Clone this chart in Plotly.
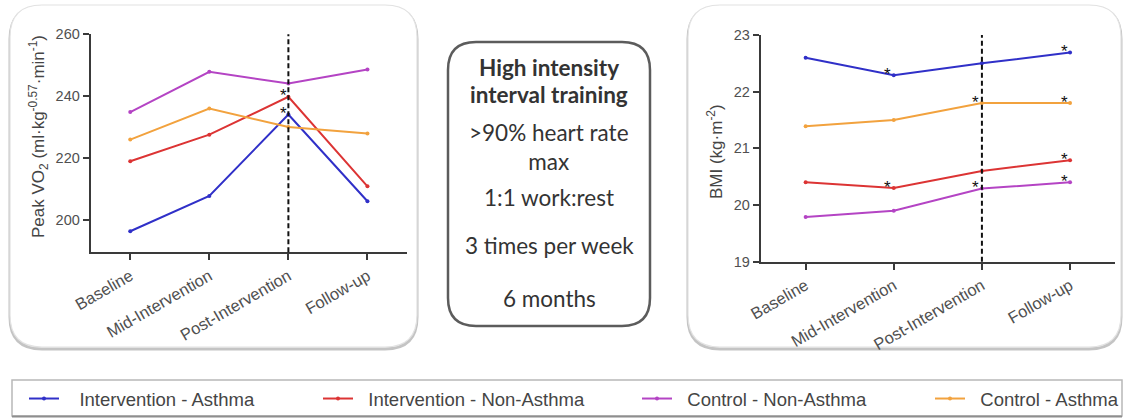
import plotly.graph_objects as go

W, H = 1126, 419

# ---------------- data ----------------
timepoints = ["Baseline", "Mid-Intervention", "Post-Intervention", "Follow-up"]
groups = ["Intervention - Asthma", "Intervention - Non-Asthma",
          "Control - Non-Asthma", "Control - Asthma"]
colors = ["#3030c8", "#dc3434", "#b444c4", "#f2a23e"]

vo2_int_asthma = [196.4, 207.8, 234.1, 206.1]
vo2_int_nonasthma = [219.0, 227.6, 239.8, 210.9]
vo2_ctl_nonasthma = [234.9, 247.9, 244.1, 248.6]
vo2_ctl_asthma = [226.0, 236.0, 230.1, 228.0]

bmi_int_asthma = [22.60, 22.29, 22.50, 22.69]
bmi_int_nonasthma = [20.40, 20.30, 20.60, 20.79]
bmi_ctl_nonasthma = [19.79, 19.90, 20.29, 20.40]
bmi_ctl_asthma = [21.39, 21.50, 21.80, 21.80]

vo2_ticks = [200, 220, 240, 260]
bmi_ticks = [19, 20, 21, 22, 23]

vo2_sig = [("Intervention - Non-Asthma", "Post-Intervention"),
           ("Intervention - Asthma", "Post-Intervention")]
bmi_sig = [("Intervention - Asthma", "Mid-Intervention"),
           ("Intervention - Asthma", "Follow-up"),
           ("Control - Asthma", "Post-Intervention"),
           ("Control - Asthma", "Follow-up"),
           ("Intervention - Non-Asthma", "Mid-Intervention"),
           ("Intervention - Non-Asthma", "Follow-up"),
           ("Control - Non-Asthma", "Post-Intervention"),
           ("Control - Non-Asthma", "Follow-up")]

box_lines = ["<b>High intensity</b>", "<b>interval training</b>",
             ">90% heart rate<br>max", "1:1 work:rest",
             "3 times per week", "6 months"]

vo2_series = dict(zip(groups, [vo2_int_asthma, vo2_int_nonasthma,
                               vo2_ctl_nonasthma, vo2_ctl_asthma]))
bmi_series = dict(zip(groups, [bmi_int_asthma, bmi_int_nonasthma,
                               bmi_ctl_nonasthma, bmi_ctl_asthma]))


def px(x):
    return x / W


def py(y):
    return 1 - y / H


fig = go.Figure()

legend_widths = [249, 274, 248, 150]
legend_pad = ["\u00a0\u00a0\u00a0", "\u00a0\u00a0", "\u00a0\u00a0", "\u00a0\u00a0"]
for g, c, lw, pad in zip(groups, colors, legend_widths, legend_pad):
    fig.add_trace(go.Scatter(
        x=timepoints, y=vo2_series[g], mode="lines+markers",
        name=pad + g, legendwidth=lw,
        line=dict(color=c, width=2), marker=dict(color=c, size=4),
        xaxis="x", yaxis="y", hoverinfo="skip"))
for g, c in zip(groups, colors):
    fig.add_trace(go.Scatter(
        x=timepoints, y=bmi_series[g], mode="lines+markers",
        name=g, showlegend=False,
        line=dict(color=c, width=2), marker=dict(color=c, size=4),
        xaxis="x2", yaxis="y2", hoverinfo="skip"))

axis_common = dict(showline=True, linecolor="#3a3a3a", linewidth=2,
                   ticks="outside", ticklen=6, tickwidth=2, tickcolor="#3a3a3a",
                   showgrid=False, zeroline=False, fixedrange=True)
FONT = "Liberation Sans, Arial, sans-serif"
xfont = dict(family=FONT, size=16.5, color="#505050")
yfont = dict(family=FONT, size=14.5, color="#505050")

fig.update_layout(
    width=W, height=H, margin=dict(l=0, r=0, t=0, b=0),
    paper_bgcolor="white", plot_bgcolor="rgba(0,0,0,0)",
    template="none", showlegend=True,
    xaxis=dict(domain=[px(90.7), px(407)], range=[-0.5, 3.5], type="category",
               tickangle=-30, tickfont=xfont, anchor="y", **axis_common),
    yaxis=dict(domain=[py(252.3), py(34.3)], range=[189.6, 260], tickvals=vo2_ticks,
               tickfont=yfont, anchor="x", **axis_common),
    xaxis2=dict(domain=[px(760.7), px(1115)], range=[-0.51, 3.51], type="category",
                tickangle=-30, tickfont=xfont, anchor="y2", **axis_common),
    yaxis2=dict(domain=[py(261.7), py(35)], range=[19, 23], tickvals=bmi_ticks,
                tickfont=yfont, anchor="x2", **axis_common),
    legend=dict(orientation="h", x=px(24), xanchor="left", y=py(399), yanchor="middle",
                font=dict(family=FONT, size=18.5, color="#454545"),
                bgcolor="rgba(0,0,0,0)", borderwidth=0, traceorder="normal"),
)


def rounded_path(x0, y0, x1, y1, r):
    pts = [
        (x0 + r, y0), (x1 - r, y0), ("Q", x1, y0, x1, y0 + r), (x1, y1 - r),
        ("Q", x1, y1, x1 - r, y1), (x0 + r, y1), ("Q", x0, y1, x0, y1 - r),
        (x0, y0 + r), ("Q", x0, y0, x0 + r, y0)]
    s = "M %.5f,%.5f" % (px(pts[0][0]), py(pts[0][1]))
    for p in pts[1:]:
        if p[0] == "Q":
            s += " Q %.5f,%.5f %.5f,%.5f" % (px(p[1]), py(p[2]), px(p[3]), py(p[4]))
        else:
            s += " L %.5f,%.5f" % (px(p[0]), py(p[1]))
    return s + " Z"


shapes = []
# panel shadows + frames
for (x0, y0, x1, y1) in [(10, 5, 417, 347), (688, 5, 1121, 347)]:
    shapes.append(dict(type="path", xref="paper", yref="paper", layer="below",
                       path=rounded_path(x0, y0 + 2, x1, y1 + 2, 32),
                       line=dict(color="#c4c4c4", width=3)))
    shapes.append(dict(type="path", xref="paper", yref="paper", layer="below",
                       path=rounded_path(x0, y0, x1, y1, 32), fillcolor="white",
                       line=dict(color="#e2e2e2", width=1.2)))
# middle box
shapes.append(dict(type="path", xref="paper", yref="paper",
                   path=rounded_path(448, 42, 650, 326, 28),
                   line=dict(color="#5c5c5c", width=2.5)))
# legend frame
shapes.append(dict(type="rect", xref="paper", yref="paper",
                   x0=px(12), x1=px(1122), y0=py(380), y1=py(416),
                   line=dict(color="#b8b8b8", width=1.5)))
shapes.append(dict(type="line", xref="paper", yref="paper",
                   x0=px(12), x1=px(1122), y0=py(416.5), y1=py(416.5),
                   line=dict(color="#8e8e8e", width=2)))
# dashed intervention-end lines
shapes.append(dict(type="line", xref="x", yref="y domain", x0="Post-Intervention",
                   x1="Post-Intervention", y0=0, y1=1,
                   line=dict(color="#111", width=2, dash="5px,3px")))
shapes.append(dict(type="line", xref="x2", yref="y2 domain", x0="Post-Intervention",
                   x1="Post-Intervention", y0=0, y1=1,
                   line=dict(color="#111", width=2, dash="5px,3px")))
fig.update_layout(shapes=shapes)

ann = []
# axis titles
ann.append(dict(xref="paper", yref="paper", x=px(38), y=py(137), showarrow=False,
                xanchor="center", yanchor="middle",
                text="Peak VO<sub>2</sub> (ml·kg<sup>-0.57</sup>·min<sup>-1</sup>)",
                textangle=-90, font=dict(family=FONT, size=17, color="#454545")))
ann.append(dict(xref="paper", yref="paper", x=px(715), y=py(152), showarrow=False,
                xanchor="center", yanchor="middle",
                text="BMI (kg·m<sup>-2</sup>)", textangle=-90,
                font=dict(family=FONT, size=17, color="#454545")))
# middle text
box_y = [67, 95, 146.5, 197, 245, 298]
for t, yy in zip(box_lines, box_y):
    ann.append(dict(xref="paper", yref="paper", x=px(549), y=py(yy), showarrow=False,
                    xanchor="center", yanchor="middle", align="center",
                    text=t, font=dict(family="Lato, Carlito, sans-serif", size=22.5, color="#333")))
# significance asterisks
for g, tp in vo2_sig:
    ann.append(dict(xref="x", yref="y", x=tp, y=vo2_series[g][timepoints.index(tp)],
                    text="*", showarrow=False, xshift=-5, yshift=1,
                    xanchor="center", yanchor="middle",
                    font=dict(family=FONT, size=17, color="#111")))
for g, tp in bmi_sig:
    ann.append(dict(xref="x2", yref="y2", x=tp, y=bmi_series[g][timepoints.index(tp)],
                    text="*", showarrow=False, xshift=-6, yshift=1,
                    xanchor="center", yanchor="middle",
                    font=dict(family=FONT, size=17, color="#111")))
fig.update_layout(annotations=ann)

fig.write_html("out.html", config={"displayModeBar": False},
               post_script="document.body.style.margin='0';")
